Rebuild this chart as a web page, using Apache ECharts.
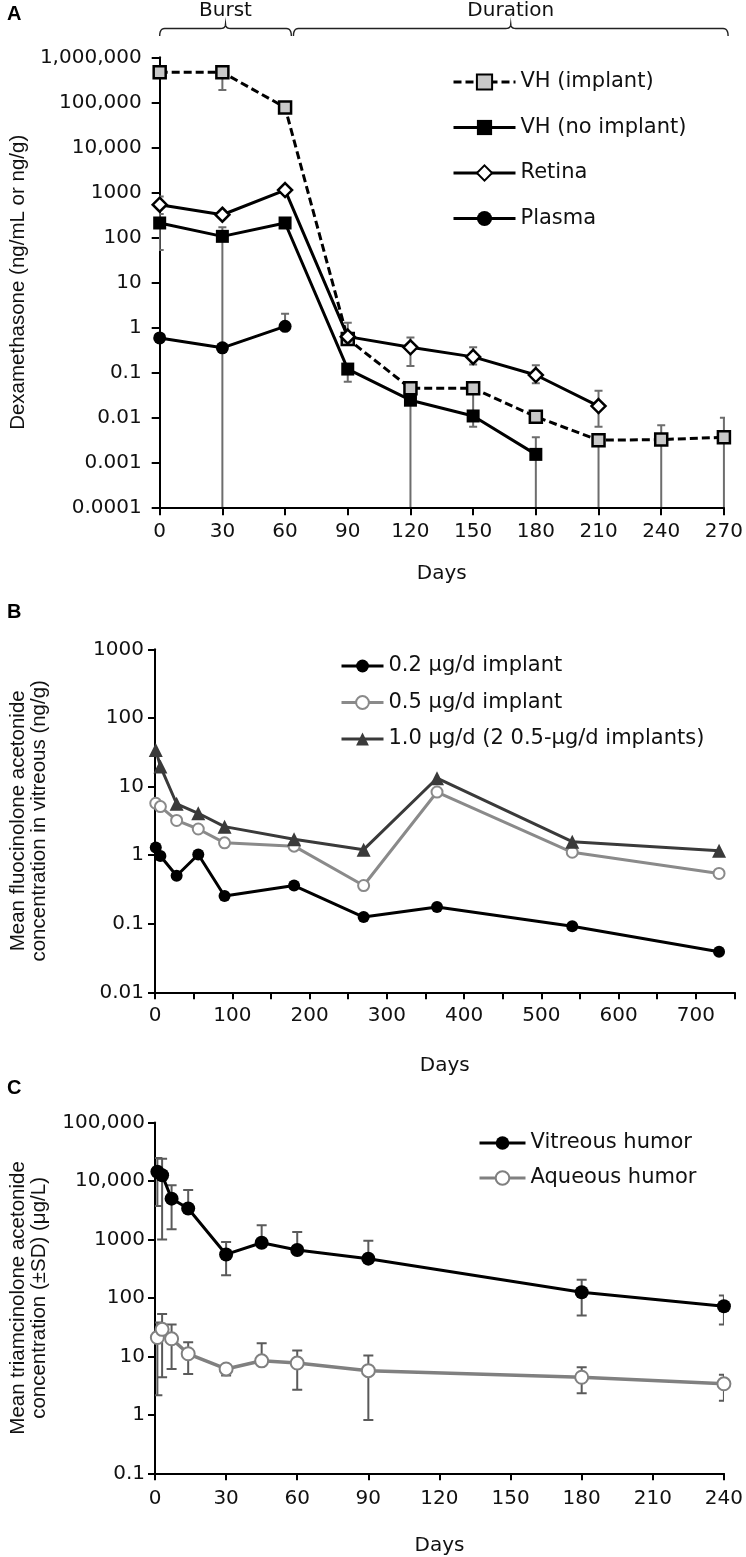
<!DOCTYPE html>
<html><head><meta charset="utf-8">
<script src="https://cdn.jsdelivr.net/npm/echarts@6/dist/echarts.min.js"></script>
<style>html,body{margin:0;padding:0;background:#fff}#c{width:746px;height:1557px}</style>
</head><body><div id="c"></div>
<script>
// ---------- Panel A : Dexamethasone ----------
const daysA = [0, 30, 60, 90, 120, 150, 180, 210, 240, 270];
const vhImplant = [464000, 464000, 77000, 0.55, 0.044, 0.044, 0.0103, 0.0031, 0.0032, 0.0036];
const vhImplantLow = [null, 187000, null, null, null, 0.012, null, 0, 0, 0];
const vhImplantHigh = [null, null, null, null, null, null, null, null, 0.0067, 0.0098];
const daysVhNo = [0, 30, 60, 90, 120, 150, 180];
const vhNoImplant = [208, 105, 208, 0.118, 0.024, 0.0107, 0.0015];
const vhNoLow = [52, 0, null, 0.062, 0, 0.0062, 0];
const vhNoHigh = [330, 167, null, null, null, null, 0.0036];
const daysRetina = [0, 30, 60, 90, 120, 150, 180, 210];
const retina = [530, 317, 1120, 0.62, 0.36, 0.22, 0.087, 0.0178];
const retinaLow = [null, null, null, null, 0.138, 0.15, 0.057, 0.0062];
const retinaHigh = [810, null, null, 1.27, 0.59, 0.36, 0.144, 0.039];
const daysPlasma = [0, 30, 60];
const plasma = [0.58, 0.35, 1.05];
const plasmaLow = [null, null, null];
const plasmaHigh = [null, null, 2.0];
const yLabelsA = ['0.0001', '0.001', '0.01', '0.1', '1', '10', '100', '1000', '10,000', '100,000', '1,000,000'];
const phaseNames = ['Burst', 'Duration'];
const phaseRanges = [[0, 63], [64, 272]];

// ---------- Panel B : Fluocinolone acetonide ----------
const daysB = [1, 7, 28, 56, 90, 180, 270, 365, 540, 730];
const fa02 = [1.29, 0.97, 0.50, 1.02, 0.254, 0.36, 0.125, 0.175, 0.092, 0.039];
const fa05 = [5.7, 5.1, 3.2, 2.4, 1.51, 1.35, 0.36, 8.3, 1.1, 0.54];
const fa10 = [34, 19.6, 5.6, 4.07, 2.6, 1.7, 1.2, 13.2, 1.57, 1.16];
const yLabelsB = ['0.01', '0.1', '1', '10', '100', '1000'];

// ---------- Panel C : Triamcinolone acetonide ----------
const daysC = [1, 3, 7, 14, 30, 45, 60, 90, 180, 240];
const vitreous = [14400, 12600, 5000, 3400, 555, 880, 660, 470, 125, 72];
const vitreousLow = [3750, 1000, 1500, null, 245, null, null, null, 50, 35];
const vitreousHigh = [24700, 24000, 8500, 7000, 910, 1760, 1350, 950, 205, 110];
const aqueous = [21, 29, 20, 11.1, 6.1, 8.4, 7.7, 5.7, 4.4, 3.4];
const aqueousLow = [2.16, 4.4, 6.1, 5.0, 4.7, null, 2.7, 0.82, 2.35, 1.74];
const aqueousHigh = [38, 53, 35, 17.5, 7.0, 16.8, 12.6, 10.4, 6.5, 4.85];
const yLabelsC = ['0.1', '1', '10', '100', '1000', '10,000', '100,000'];

// ---------- helpers ----------
const zip = (xs, ys) => xs.map((x, i) => [x, ys[i]]);
function errData(xs, vals, lows, highs, axisMin) {
  const out = [];
  xs.forEach((x, i) => {
    if (lows[i] != null) {
      const open = lows[i] <= 0;
      out.push([x, vals[i], open ? axisMin : lows[i], open ? 0 : 1]);
    }
    if (highs[i] != null) out.push([x, vals[i], highs[i], 1]);
  });
  return out;
}
function errSeries(idx, data, color, lw, capW) {
  return {
    type: 'custom', xAxisIndex: idx, yAxisIndex: idx, z: 1, silent: true,
    clip: true, encode: { x: 0, y: [1, 2] }, data: data,
    renderItem: function (params, api) {
      const x = api.value(0);
      const p0 = api.coord([x, api.value(1)]);
      const p1 = api.coord([x, api.value(2)]);
      const children = [{ type: 'line', shape: { x1: p0[0], y1: p0[1], x2: p1[0], y2: p1[1] },
        style: { stroke: color, lineWidth: lw } }];
      if (api.value(3) === 1) {
        children.push({ type: 'line', shape: { x1: p1[0] - capW / 2, y1: p1[1], x2: p1[0] + capW / 2, y2: p1[1] },
          style: { stroke: color, lineWidth: lw } });
      }
      return { type: 'group', children: children };
    }
  };
}
const TICK_FONT = { fontFamily: 'DejaVu Sans', fontSize: 20, color: '#111' };
const NAME_FONT = { fontFamily: 'Liberation Sans', fontSize: 20.5, color: '#111' };
const LEGEND_FONT = { fontFamily: 'DejaVu Sans', fontSize: 21, color: '#111', lineHeight: 22 };
const AXLINE = { show: true, lineStyle: { color: '#000', width: 2 } };
function logLabel(labels, minExp) {
  return v => labels[Math.round(Math.log10(v)) - minExp] || '';
}

const chart = echarts.init(document.getElementById('c'), null, { renderer: 'canvas' });

const option = {
  animation: false,
  backgroundColor: '#fff',
  grid: [
    { left: 146, right: 15, top: 57.3, height: 450 },
    { left: 144.5, right: 11.5, top: 649.3, height: 343 },
    { left: 145, right: 21, top: 1122.6, height: 350.7 }
  ],
  xAxis: [
    { gridIndex: 0, type: 'value', min: 0, max: 270, interval: 30,
      name: 'Days', nameLocation: 'middle', nameGap: 56, nameTextStyle: TICK_FONT,
      axisLine: AXLINE, axisTick: { show: true, length: 8, lineStyle: { color: '#000', width: 2 } },
      axisLabel: Object.assign({ margin: 14 }, TICK_FONT), splitLine: { show: false } },
    { gridIndex: 1, type: 'value', min: 0, max: 750, interval: 50,
      name: 'Days', nameLocation: 'middle', nameGap: 63, nameTextStyle: TICK_FONT,
      axisLine: AXLINE, axisTick: { show: true, length: 7, lineStyle: { color: '#000', width: 2 } },
      axisLabel: Object.assign({ margin: 13, formatter: v => (v % 100 === 0 && v < 750) ? String(v) : '' }, TICK_FONT),
      splitLine: { show: false } },
    { gridIndex: 2, type: 'value', min: 0, max: 240, interval: 30,
      name: 'Days', nameLocation: 'middle', nameGap: 62, nameTextStyle: TICK_FONT,
      axisLine: AXLINE, axisTick: { show: true, length: 7, lineStyle: { color: '#000', width: 2 } },
      axisLabel: Object.assign({ margin: 15 }, TICK_FONT), splitLine: { show: false } }
  ],
  yAxis: [
    { gridIndex: 0, type: 'log', logBase: 10, min: 0.0001, max: 1000000, interval: 1,
      name: 'Dexamethasone (ng/mL or ng/g)', nameLocation: 'middle', nameGap: 125, nameTextStyle: NAME_FONT,
      axisLine: AXLINE, axisTick: { show: true, length: 8, lineStyle: { color: '#000', width: 2 } },
      axisLabel: Object.assign({ margin: 18, formatter: logLabel(yLabelsA, -4) }, TICK_FONT),
      splitLine: { show: false }, minorTick: { show: false } },
    { gridIndex: 1, type: 'log', logBase: 10, min: 0.01, max: 1000, interval: 1,
      name: 'Mean fluocinolone acetonide\nconcentration in vitreous (ng/g)', nameLocation: 'middle', nameGap: 105,
      nameTextStyle: Object.assign({ lineHeight: 21 }, NAME_FONT),
      axisLine: AXLINE, axisTick: { show: true, length: 7, lineStyle: { color: '#000', width: 2 } },
      axisLabel: Object.assign({ margin: 11, formatter: logLabel(yLabelsB, -2) }, TICK_FONT),
      splitLine: { show: false } },
    { gridIndex: 2, type: 'log', logBase: 10, min: 0.1, max: 100000, interval: 1,
      name: 'Mean triamcinolone acetonide\nconcentration (±SD) (μg/L)', nameLocation: 'middle', nameGap: 105,
      nameTextStyle: Object.assign({ lineHeight: 21 }, NAME_FONT),
      axisLine: AXLINE, axisTick: { show: true, length: 7, lineStyle: { color: '#000', width: 2 } },
      axisLabel: Object.assign({ margin: 10, formatter: logLabel(yLabelsC, -1) }, TICK_FONT),
      splitLine: { show: false } }
  ],
  legend: [
    { left: 452, top: 71, padding: 0, orient: 'vertical', itemWidth: 62, itemHeight: 19, itemGap: 23.5,
      lineStyle: { width: 3 }, textStyle: LEGEND_FONT,
      data: ['VH (implant)', 'VH (no implant)', 'Retina', 'Plasma'] },
    { left: 340, top: 655, padding: 0, orient: 'vertical', itemWidth: 42, itemHeight: 16, itemGap: 14.5,
      lineStyle: { width: 3 }, textStyle: LEGEND_FONT,
      data: ['0.2 μg/d implant', '0.5 μg/d implant', '1.0 μg/d (2 0.5-μg/d implants)'] },
    { left: 478, top: 1132, padding: 0, orient: 'vertical', itemWidth: 46, itemHeight: 17, itemGap: 13,
      lineStyle: { width: 3 }, textStyle: LEGEND_FONT,
      data: ['Vitreous humor', 'Aqueous humor'] }
  ],
  series: [
    // Panel A error bars
    errSeries(0, errData(daysA, vhImplant, vhImplantLow, vhImplantHigh, 0.0001), '#6d6d6d', 2, 8),
    errSeries(0, errData(daysVhNo, vhNoImplant, vhNoLow, vhNoHigh, 0.0001), '#6d6d6d', 2, 8),
    errSeries(0, errData(daysRetina, retina, retinaLow, retinaHigh, 0.0001), '#6d6d6d', 2, 8),
    errSeries(0, errData(daysPlasma, plasma, plasmaLow, plasmaHigh, 0.0001), '#6d6d6d', 2, 8),
    { type: 'line', name: 'Plasma', xAxisIndex: 0, yAxisIndex: 0, z: 3, data: zip(daysPlasma, plasma),
      symbol: 'circle', symbolSize: 13, itemStyle: { color: '#000' }, lineStyle: { color: '#000', width: 3 } },
    { type: 'line', name: 'VH (no implant)', xAxisIndex: 0, yAxisIndex: 0, z: 3, data: zip(daysVhNo, vhNoImplant),
      symbol: 'rect', symbolSize: 13, itemStyle: { color: '#000' }, lineStyle: { color: '#000', width: 3 } },
    { type: 'line', name: 'VH (implant)', xAxisIndex: 0, yAxisIndex: 0, z: 4, data: zip(daysA, vhImplant),
      symbol: 'rect', symbolSize: 12, itemStyle: { color: '#c8c8c8', borderColor: '#000', borderWidth: 2.5 },
      lineStyle: { color: '#000', width: 3, type: [8, 4] } },
    { type: 'line', name: 'Retina', xAxisIndex: 0, yAxisIndex: 0, z: 5, data: zip(daysRetina, retina),
      symbol: 'diamond', symbolSize: 14, itemStyle: { color: '#fff', borderColor: '#000', borderWidth: 2.5 },
      lineStyle: { color: '#000', width: 3 } },
    // Panel B
    { type: 'line', name: '0.2 μg/d implant', xAxisIndex: 1, yAxisIndex: 1, z: 3, data: zip(daysB, fa02),
      symbol: 'circle', symbolSize: 12, itemStyle: { color: '#000' }, lineStyle: { color: '#000', width: 3 } },
    { type: 'line', name: '0.5 μg/d implant', xAxisIndex: 1, yAxisIndex: 1, z: 3, data: zip(daysB, fa05),
      symbol: 'circle', symbolSize: 11, itemStyle: { color: '#fff', borderColor: '#8a8a8a', borderWidth: 2 },
      lineStyle: { color: '#8a8a8a', width: 3 } },
    { type: 'line', name: '1.0 μg/d (2 0.5-μg/d implants)', xAxisIndex: 1, yAxisIndex: 1, z: 3, data: zip(daysB, fa10),
      symbol: 'triangle', symbolSize: 14, itemStyle: { color: '#3a3a3a' }, lineStyle: { color: '#3a3a3a', width: 3 } },
    // Panel C
    errSeries(2, errData(daysC, vitreous, vitreousLow, vitreousHigh, 0.1), '#5a5a5a', 2, 10),
    errSeries(2, errData(daysC, aqueous, aqueousLow, aqueousHigh, 0.1), '#5a5a5a', 2, 10),
    { type: 'line', name: 'Vitreous humor', xAxisIndex: 2, yAxisIndex: 2, z: 3, data: zip(daysC, vitreous),
      symbol: 'circle', symbolSize: 14, itemStyle: { color: '#000' }, lineStyle: { color: '#000', width: 3 } },
    { type: 'line', name: 'Aqueous humor', xAxisIndex: 2, yAxisIndex: 2, z: 3, data: zip(daysC, aqueous),
      symbol: 'circle', symbolSize: 13, itemStyle: { color: '#fff', borderColor: '#808080', borderWidth: 2 },
      lineStyle: { color: '#808080', width: 3.5 } }
  ]
};
chart.setOption(option);

// Panel letters and phase brackets (positions derived from the axis scale)
const graphics = [
  { type: 'text', left: 7, top: 4, style: { text: 'A', font: 'bold 20px "Liberation Sans"', fill: '#000' } },
  { type: 'text', left: 7, top: 602, style: { text: 'B', font: 'bold 20px "Liberation Sans"', fill: '#000' } },
  { type: 'text', left: 7, top: 1078, style: { text: 'C', font: 'bold 20px "Liberation Sans"', fill: '#000' } }
];
function quad(p0, c, p1, n) {
  const pts = [];
  for (let k = 0; k <= n; k++) {
    const t = k / n, u = 1 - t;
    pts.push([u * u * p0[0] + 2 * u * t * c[0] + t * t * p1[0], u * u * p0[1] + 2 * u * t * c[1] + t * t * p1[1]]);
  }
  return pts;
}
const yTop = 28.5, yEnd = 36, yTip = 24, r = 5;
phaseRanges.forEach((rg, i) => {
  const x0 = chart.convertToPixel({ xAxisIndex: 0 }, rg[0]);
  const x1 = chart.convertToPixel({ xAxisIndex: 0 }, rg[1]);
  const xc = (x0 + x1) / 2;
  const pts = [].concat(
    quad([x0, yEnd], [x0, yTop], [x0 + r, yTop], 6),
    quad([xc - r, yTop], [xc, yTop], [xc, yTip], 6),
    quad([xc, yTip], [xc, yTop], [xc + r, yTop], 6),
    quad([x1 - r, yTop], [x1, yTop], [x1, yEnd], 6)
  );
  graphics.push({ type: 'polyline', shape: { points: pts }, style: { stroke: '#222', lineWidth: 1.4, fill: null } });
  graphics.push({ type: 'text', x: xc, y: 11, style: { text: phaseNames[i], font: '20px "DejaVu Sans"', fill: '#111',
    align: 'center', verticalAlign: 'middle' } });
});
chart.setOption({ graphic: graphics });
</script>
</body></html>
